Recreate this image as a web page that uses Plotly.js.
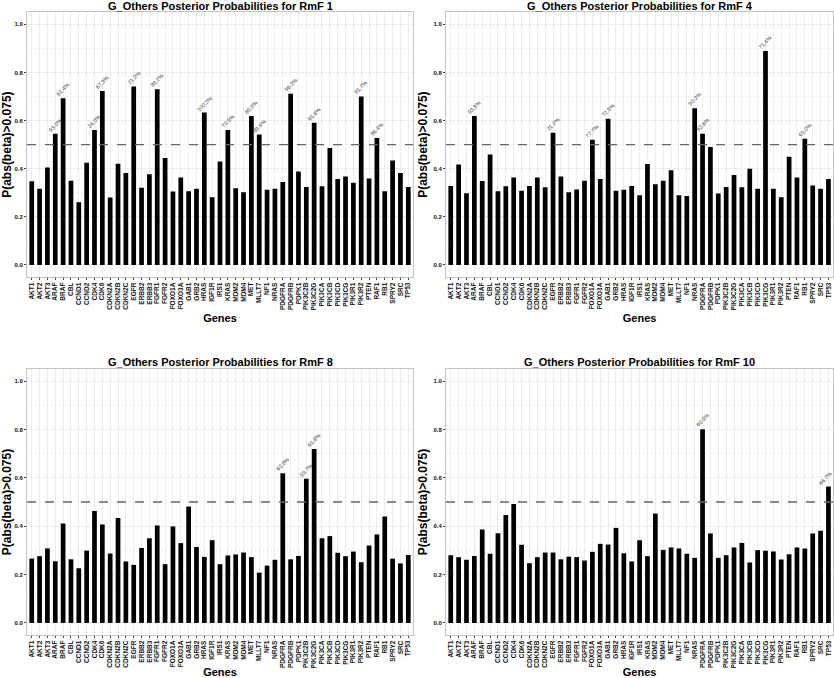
<!DOCTYPE html>
<html>
<head>
<meta charset="utf-8">
<script src="https://cdn.plot.ly/plotly-3.0.1.min.js"></script>
<style>html,body{margin:0;padding:0;background:#fff;}#chart{width:834px;height:678px;}</style>
</head>
<body>
<div id="chart"></div>
<script>
const genes = ['AKT1','AKT2','AKT3','ARAF','BRAF','CBL','CCND1','CCND2','CDK4','CDK6','CDKN2A','CDKN2B','CDKN2C','EGFR','ERBB2','ERBB3','FGFR1','FGFR2','FOXO1A','FOXO3A','GAB1','GRB2','HRAS','IGF1R','IRS1','KRAS','MDM2','MDM4','MET','MLLT7','NF1','NRAS','PDGFRA','PDGFRB','PDPK1','PIK3C2B','PIK3C2G','PIK3CA','PIK3CB','PIK3CD','PIK3CG','PIK3R1','PIK3R2','PTEN','RAF1','RB1','SPRY2','SRC','TP53'];

const rmf1 = [0.348,0.317,0.405,0.545,0.693,0.350,0.261,0.425,0.561,0.723,0.280,0.421,0.382,0.741,0.321,0.377,0.730,0.444,0.305,0.363,0.306,0.317,0.633,0.281,0.430,0.561,0.319,0.302,0.619,0.542,0.313,0.317,0.345,0.711,0.388,0.324,0.591,0.327,0.486,0.357,0.368,0.342,0.700,0.359,0.527,0.306,0.434,0.382,0.324];
const rmf4 = [0.328,0.417,0.298,0.619,0.349,0.459,0.306,0.327,0.363,0.308,0.328,0.363,0.323,0.549,0.368,0.302,0.314,0.350,0.520,0.357,0.607,0.308,0.312,0.328,0.290,0.419,0.335,0.350,0.393,0.290,0.287,0.651,0.545,0.490,0.297,0.324,0.374,0.323,0.400,0.317,0.889,0.317,0.281,0.450,0.363,0.524,0.330,0.317,0.357];
const rmf8 = [0.266,0.276,0.308,0.255,0.411,0.263,0.226,0.299,0.463,0.407,0.287,0.434,0.254,0.240,0.310,0.350,0.403,0.243,0.399,0.330,0.481,0.314,0.273,0.342,0.243,0.279,0.283,0.291,0.272,0.208,0.237,0.261,0.619,0.263,0.277,0.596,0.719,0.350,0.359,0.290,0.276,0.295,0.251,0.320,0.366,0.440,0.266,0.246,0.281];
const rmf10 = [0.280,0.272,0.261,0.277,0.386,0.286,0.371,0.446,0.492,0.323,0.247,0.272,0.291,0.291,0.263,0.274,0.272,0.258,0.294,0.327,0.324,0.393,0.288,0.254,0.342,0.276,0.452,0.302,0.312,0.308,0.286,0.269,0.801,0.370,0.269,0.280,0.312,0.331,0.250,0.301,0.298,0.295,0.262,0.284,0.312,0.308,0.370,0.381,0.564];

const lab1Genes = ['ARAF','BRAF','CDK4','CDK6','EGFR','FGFR1','HRAS','KRAS','MET','MLLT7','PDGFRB','PIK3C2G','PIK3R2','RAF1'];
const lab1Text  = ['93.0%','61.4%','24.0%','67.3%','21.2%','88.2%','100.0%','70.5%','69.0%','89.4%','96.2%','65.6%','81.7%','86.4%'];
const lab4Genes = ['ARAF','EGFR','FOXO1A','GAB1','NRAS','PDGFRA','PIK3CG','RB1'];
const lab4Text  = ['93.8%','21.2%','77.7%','72.9%','90.2%','92.6%','71.4%','65.0%'];
const lab8Genes = ['PDGFRA','PIK3C2B','PIK3C2G'];
const lab8Text  = ['60.8%','59.7%','65.8%'];
const lab10Genes = ['PDGFRA','TP53'];
const lab10Text  = ['60.9%','66.7%'];

const titles = ['G_Others Posterior Probabilities for RmF 1','G_Others Posterior Probabilities for RmF 4','G_Others Posterior Probabilities for RmF 8','G_Others Posterior Probabilities for RmF 10'];

const panels = [
  {vals: rmf1, lg: lab1Genes, lt: lab1Text, xd:[0.0324,0.4952], yd:[0.5914,0.982], ty:0.9905},
  {vals: rmf4, lg: lab4Genes, lt: lab4Text, xd:[0.5348,0.9990], yd:[0.5914,0.982], ty:0.9905},
  {vals: rmf8, lg: lab8Genes, lt: lab8Text, xd:[0.0324,0.4952], yd:[0.0634,0.4558], ty:0.4655},
  {vals: rmf10, lg: lab10Genes, lt: lab10Text, xd:[0.5348,0.9990], yd:[0.0634,0.4558], ty:0.4655}
];

const FONT = 'Liberation Sans, Arial, sans-serif';
const data = [];
const layout = {
  width: 834, height: 678,
  margin: {l:0, r:0, t:0, b:0},
  paper_bgcolor: '#ffffff', plot_bgcolor: '#ffffff',
  showlegend: false,
  bargap: 0.4,
  font: {family: FONT, color: '#000'},
  annotations: [], shapes: []
};

panels.forEach((p, i) => {
  const n = i + 1;
  const xa = n === 1 ? 'x' : 'x' + n;
  const ya = n === 1 ? 'y' : 'y' + n;
  data.push({type:'bar', x: genes, y: p.vals, xaxis: xa, yaxis: ya,
    marker: {color:'#000000', line:{width:0}}, width: 0.6, hoverinfo:'x+y'});
  layout['xaxis' + (n === 1 ? '' : n)] = {
    domain: p.xd, anchor: ya, type:'category', range:[-0.6, 48.6],
    tickmode:'array', tickvals: genes, ticktext: genes,
    showgrid: true, gridcolor:'#ececec', gridwidth: 1,
    showline: true, mirror: true, linecolor:'#c4c4c4', linewidth: 1,
    ticks:'outside', ticklen: 2, tickcolor:'#444', tickangle: -90,
    tickfont: {family: FONT, size: 6.5, weight: 'bold', color:'#111'},
    title: {text:'Genes', font:{family: FONT, size: 11, weight:'bold', color:'#000'}, standoff: 4},
    zeroline: false, fixedrange: true
  };
  layout['yaxis' + (n === 1 ? '' : n)] = {
    domain: p.yd, anchor: xa, range:[-0.05, 1.05],
    tickvals:[0,0.2,0.4,0.6,0.8,1.0], tickformat:'.1f',
    showgrid: true, gridcolor:'#ececec', gridwidth: 1,
    minor: {tickvals:[0.1,0.3,0.5,0.7,0.9], showgrid:true, gridcolor:'#f5f5f5', ticks:''},
    showline: true, mirror: true, linecolor:'#c4c4c4', linewidth: 1,
    ticks:'outside', ticklen: 2, tickcolor:'#444',
    tickfont: {family: FONT, size: 6, weight: 'bold', color:'#111'},
    title: {text:'P(abs(beta)>0.075)', font:{family: FONT, size: 12, weight:'bold', color:'#000'}, standoff: 3},
    zeroline: false, fixedrange: true
  };
  layout.shapes.push({type:'line', xref: xa + ' domain', yref: ya, x0:0, x1:1, y0:0.5, y1:0.5,
    line:{color:'#666666', width:1.3, dash:'dash'}});
  layout.annotations.push({text: titles[i], xref:'paper', yref:'paper',
    x: (p.xd[0] + p.xd[1]) / 2, xanchor:'center', y: p.ty, yanchor:'middle', borderpad: 0, showarrow:false,
    font:{family: FONT, size: 11, weight:'bold', color:'#000'}});
  p.lg.forEach((g, k) => {
    const idx = genes.indexOf(g);
    const edge = (idx === genes.length - 1 && p.xd[1] > 0.99);
    layout.annotations.push({text: p.lt[k], xref: xa, yref: ya, x: g, y: p.vals[idx],
      yshift: 9, xshift: edge ? -3 : 0, textangle: -45, showarrow: false, borderpad: 0,
      font:{family: FONT, size: 5.5, color:'#333'}});
  });
});

Plotly.newPlot('chart', data, layout, {displayModeBar:false, staticPlot:true});
</script>
</body>
</html>
